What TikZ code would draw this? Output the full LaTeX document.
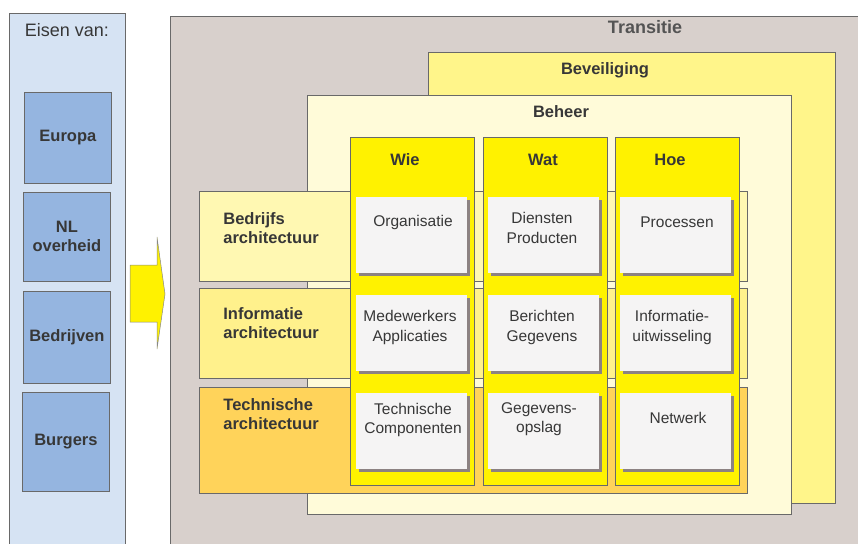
\documentclass[tikz,border=0pt]{standalone}
\usepackage{fontspec}
\setmainfont{Liberation Sans}
\usetikzlibrary{positioning,shadows}
\definecolor{lineg}{RGB}{105,105,105}
\definecolor{txtg}{RGB}{55,55,55}
\definecolor{panelblue}{RGB}{214,227,243}
\definecolor{eisblue}{RGB}{149,181,224}
\definecolor{taupe}{RGB}{216,208,204}
\definecolor{bevyellow}{RGB}{255,245,138}
\definecolor{behyellow}{RGB}{255,251,217}
\definecolor{bandone}{RGB}{255,248,178}
\definecolor{bandtwo}{RGB}{255,241,140}
\definecolor{bandthree}{RGB}{255,211,90}
\definecolor{colyellow}{RGB}{255,242,0}
\definecolor{cellgray}{RGB}{245,244,244}
\definecolor{shadowg}{RGB}{140,130,130}

\begin{document}
\begin{tikzpicture}[x=1pt,y=-1pt,line width=.8pt,
  box/.style={draw=lineg,anchor=north west,inner sep=0pt},
  panel/.style={box,fill=panelblue,minimum width=116,minimum height=560},
  eisbox/.style={box,fill=eisblue,minimum width=87,minimum height=90,
    align=center,text=txtg,font=\bfseries\fontsize{16.5}{19}\selectfont},
  band/.style={box,minimum width=548,minimum height=90},
  column/.style={box,fill=colyellow,minimum width=124,minimum height=348},
  cell/.style={box,fill=cellgray,draw=none,minimum width=111,minimum height=76,
    drop shadow={shadow xshift=3pt,shadow yshift=-3pt,fill=shadowg,opacity=1}},
  head/.style={text=txtg,font=\bfseries\fontsize{16.5}{19}\selectfont},
  bandtext/.style={head,anchor=west,align=left,inner sep=0pt},
  celltext/.style={text=txtg,align=center,inner sep=0pt,
    font=\fontsize{15.5}{19.5}\selectfont}]

  \useasboundingbox (0,0) rectangle (858,543);

  % eisen
  \node[panel] (eisen) at (9,13) {};
  \node[text=txtg,font=\fontsize{18}{21}\selectfont] (eisentitel) at (67,30) {Eisen van:};
  \node[eisbox,minimum height=91] (europa) at (24,92) {Europa};
  \node[eisbox,minimum height=89] (nl) at (23,192) {NL\\overheid};
  \node[eisbox,minimum height=92] (bedrijven) at (23,291) {Bedrijven};
  \node[eisbox,minimum height=99] (burgers) at (22,392) {Burgers};

  % transitie, beveiliging, beheer
  \node[box,fill=taupe,minimum width=700,minimum height=540] (transitie) at (170,16) {};
  \node[head,text=lineg!80!black,font=\bfseries\fontsize{18}{21}\selectfont] (transitietitel) at (645,27) {Transitie};
  \node[box,fill=bevyellow,minimum width=407,minimum height=451] (beveiliging) at (428,52) {};
  \node[head] (beveiligingtitel) at (605,70) {Beveiliging};
  \node[box,fill=behyellow,minimum width=484,minimum height=419] (beheer) at (307,95) {};
  \node[head] (beheertitel) at (561,112) {Beheer};

  % arrow
  \coordinate (pijl) at (130,265);
  \draw[draw=lineg!80,line width=.5pt,fill=colyellow] (pijl) -- ++(27,0) -- ++(0,-28)
    -- ++(8,57) -- ++(-8,55) -- ++(0,-27) -- ++(-27,0) -- cycle;

  % architecture bands
  \node[band,fill=bandone] (bedrijfs) at (199,191) {};
  \node[band,fill=bandtwo] (informatie) at (199,288) {};
  \node[band,fill=bandthree,minimum height=106] (technisch) at (199,387) {};
  \node[bandtext] (bedrijfstekst) at (223,228) {Bedrijfs\\architectuur};
  \node[bandtext] (informatietekst) at (223,323.5) {Informatie\\architectuur};
  \node[bandtext] (technischtekst) at (223,414) {Technische\\architectuur};

  % columns
  \node[column] (wie) at (350,137) {};
  \node[column] (wat) at (483,137) {};
  \node[column] (hoe) at (615,137) {};
  \node[head] (wietitel) at (405,160) {Wie};
  \node[head] (wattitel) at (543,160) {Wat};
  \node[head] (hoetitel) at (670,160) {Hoe};

  % cells
  \node[cell] (c11) at (356,197) {};
  \node[cell] (c12) at (488,197) {};
  \node[cell] (c13) at (620,197) {};
  \node[cell] (c21) at (356,295) {};
  \node[cell] (c22) at (488,295) {};
  \node[cell] (c23) at (620,295) {};
  \node[cell] (c31) at (356,393) {};
  \node[cell] (c32) at (488,393) {};
  \node[cell] (c33) at (620,393) {};

  \node[celltext] (t11) at (413,222) {Organisatie};
  \node[celltext] (t12) at (542,228) {Diensten\\Producten};
  \node[celltext] (t13) at (677,222) {Processen};
  \node[celltext] (t21) at (410,327.5) {Medewerkers\\Applicaties};
  \node[celltext] (t22) at (542,327.5) {Berichten\\Gegevens};
  \node[celltext] (t23) at (672,327.5) {Informatie-\\uitwisseling};
  \node[celltext] (t31) at (413,420) {Technische\\Componenten};
  \node[celltext] (t32) at (539,419) {Gegevens-\\opslag};
  \node[celltext] (t33) at (678,418) {Netwerk};

\end{tikzpicture}
\end{document}
